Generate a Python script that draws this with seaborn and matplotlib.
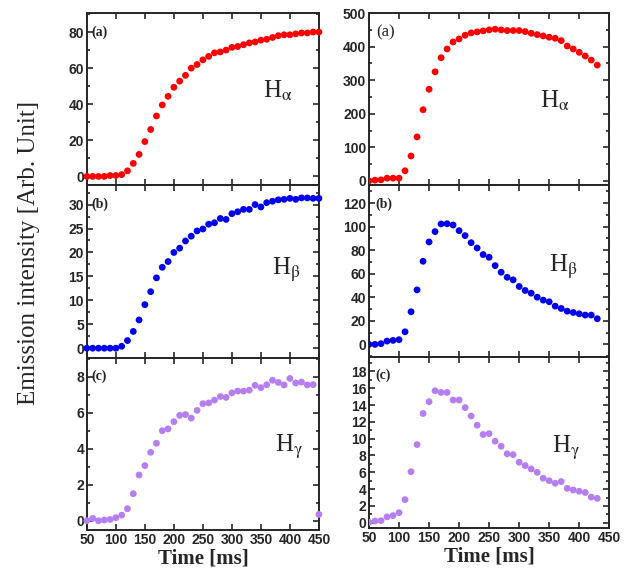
import numpy as np
import pandas as pd
import matplotlib
matplotlib.use("Agg")
import matplotlib.pyplot as plt
from matplotlib.ticker import MultipleLocator, AutoMinorLocator
import seaborn as sns

# time axes (ms)
time_left = list(range(50, 451, 10))
time_right = list(range(50, 431, 10))

# left column
ha_left = [0, 0, 0, 0, 0.5, 0.5, 1, 3.1, 7.2, 12.2, 19.3, 26, 33.5, 39.6, 44.4, 49.4,
           52.8, 56, 60, 62, 64.6, 66.5, 68.5, 69, 70, 71.5, 72, 73, 74, 74.5, 75.5,
           76, 77, 78, 78.5, 78.5, 79, 79.5, 79.5, 80, 80]
hb_left = [0, 0, 0, 0, 0, 0, 0.4, 1.6, 3.5, 5.9, 9.1, 11.8, 14.7, 16.9, 18.1, 20,
           20.9, 22.4, 23.4, 24.5, 24.9, 25.9, 26.2, 27.1, 26.9, 28.1, 28.5, 29, 29,
           30, 29.5, 30.4, 30.7, 31, 31.1, 31.3, 31.1, 31.4, 31.4, 31.3, 31.3]
hg_left = [0, 0.13, 0, 0.04, 0.07, 0.17, 0.31, 0.67, 1.5, 2.54, 3.06, 3.8, 4.3, 5.0,
           5.1, 5.5, 5.85, 5.9, 5.7, 6.13, 6.5, 6.54, 6.7, 6.9, 6.85, 7.1, 7.2, 7.2,
           7.25, 7.52, 7.39, 7.55, 7.8, 7.68, 7.54, 7.9, 7.65, 7.7, 7.54, 7.56, 0.35]

# right column
ha_right = [0, 2, 3, 8, 8, 8, 30, 74, 131, 212, 273, 325, 367, 393, 414, 423, 434,
            441, 444, 447, 450, 452, 450, 448, 448, 448, 445, 440, 436, 432, 428,
            425, 418, 402, 393, 383, 372, 360, 345]
hb_right = [0, 0, 0.6, 2.8, 3.4, 4, 10.7, 27.7, 46.3, 70.6, 87, 95.8, 102.3, 102.5,
            101.4, 96.6, 92.4, 86.4, 81.9, 76.3, 74, 66.9, 61.3, 57, 54.8, 49.2,
            45.8, 43.5, 40.1, 37.6, 36.2, 32.5, 30.5, 28.2, 27.1, 26, 24.9, 24.9, 21.8]
hg_right = [0.05, 0.2, 0.25, 0.7, 0.85, 1.2, 2.75, 6.07, 9.3, 13.0, 14.4, 15.7, 15.5,
            15.5, 14.6, 14.6, 13.7, 12.7, 11.6, 10.5, 10.6, 9.7, 9.1, 8.2, 8.1, 7.2,
            6.8, 6.4, 6.0, 5.3, 5.0, 4.7, 4.9, 4.1, 3.9, 3.75, 3.6, 3.05, 2.9]

colors = ["#ff0000", "#0000f0", "#b57ef2"]
lines = [r"H$_\mathrm{\alpha}$", r"H$_\mathrm{\beta}$", r"H$_\mathrm{\gamma}$"]


def style_axis(ax, ystep, ylim):
    ax.set_xlim(50, 450)
    ax.set_ylim(*ylim)
    ax.xaxis.set_major_locator(MultipleLocator(50))
    ax.yaxis.set_major_locator(MultipleLocator(ystep))
    ax.yaxis.set_minor_locator(AutoMinorLocator(2))
    ax.tick_params(which="both", direction="in", top=True, right=True, width=1.2, pad=2)
    ax.tick_params(which="major", length=4)
    ax.tick_params(which="minor", length=2)
    for lab in ax.get_xticklabels() + ax.get_yticklabels():
        lab.set_fontweight("bold")
    for sp in ax.spines.values():
        sp.set_linewidth(1.4)
    ax.set_xlabel("")
    ax.set_ylabel("")


def main():
    sns.set_style("ticks")
    plt.rcParams["font.family"] = ["Liberation Sans", "DejaVu Sans"]
    plt.rcParams["mathtext.fontset"] = "stix"
    plt.rcParams["xtick.labelsize"] = 10
    plt.rcParams["ytick.labelsize"] = 10

    fig = plt.figure(figsize=(6.34, 5.70), dpi=100)
    gs_l = fig.add_gridspec(3, 1, left=0.137, right=0.503, top=0.977, bottom=0.07, hspace=0)
    gs_r = fig.add_gridspec(3, 1, left=0.582, right=0.961, top=0.977, bottom=0.073, hspace=0)

    left = [(ha_left, 20, (-5, 90.5)), (hb_left, 5, (-2, 34)), (hg_left, 2, (-0.52, 9.05))]
    right = [(ha_right, 100, (-12, 500)), (hb_right, 20, (-10.4, 135.5)),
             (hg_right, 2, (-0.67, 19.76))]

    lab_l = ["(a)", "(b)", "(c)"]
    hpos_l = [(0.76, 0.55), (0.80, 0.51), (0.81, 0.48)]
    hpos_r = [(0.71, 0.49), (0.75, 0.52), (0.76, 0.47)]

    for i in range(3):
        # left column
        ax = fig.add_subplot(gs_l[i])
        vals, step, lim = left[i]
        df = pd.DataFrame({"time": time_left, "intensity": vals})
        sns.scatterplot(data=df, x="time", y="intensity", ax=ax, color=colors[i],
                        s=24, edgecolor="none", clip_on=False, zorder=3)
        style_axis(ax, step, lim)
        if i < 2:
            ax.set_xticklabels([])
        else:
            ax.set_xlabel("Time [ms]", family="Liberation Serif", fontweight="bold",
                          fontsize=15, labelpad=1)
        ax.text(0.02, 0.89, lab_l[i], transform=ax.transAxes, family="Liberation Serif",
                fontweight="bold", fontsize=10, va="center")
        ax.text(hpos_l[i][0], hpos_l[i][1], lines[i], transform=ax.transAxes,
                family="Liberation Serif", fontsize=18, va="center")

        # right column
        ax = fig.add_subplot(gs_r[i])
        vals, step, lim = right[i]
        df = pd.DataFrame({"time": time_right, "intensity": vals})
        sns.scatterplot(data=df, x="time", y="intensity", ax=ax, color=colors[i],
                        s=24, edgecolor="none", zorder=3)
        style_axis(ax, step, lim)
        if i < 2:
            ax.set_xticklabels([])
        else:
            ax.set_xlabel("Time [ms]", family="Liberation Serif", fontweight="bold",
                          fontsize=15, labelpad=1)
        if i == 0:
            ax.text(0.03, 0.89, "(a)", transform=ax.transAxes, family="Liberation Serif",
                    fontsize=12, va="center")
        else:
            ax.text(0.025, 0.89, lab_l[i], transform=ax.transAxes,
                    family="Liberation Serif", fontweight="bold", fontsize=10, va="center")
        ax.text(hpos_r[i][0], hpos_r[i][1], lines[i], transform=ax.transAxes,
                family="Liberation Serif", fontsize=18, va="center")

    fig.text(0.045, 0.556, "Emission intensity [Arb. Unit]", rotation=90,
             family="Liberation Serif", fontsize=18, va="center", ha="center")

    fig.savefig("out.png", dpi=100)
    plt.close(fig)


if __name__ == "__main__":
    main()
